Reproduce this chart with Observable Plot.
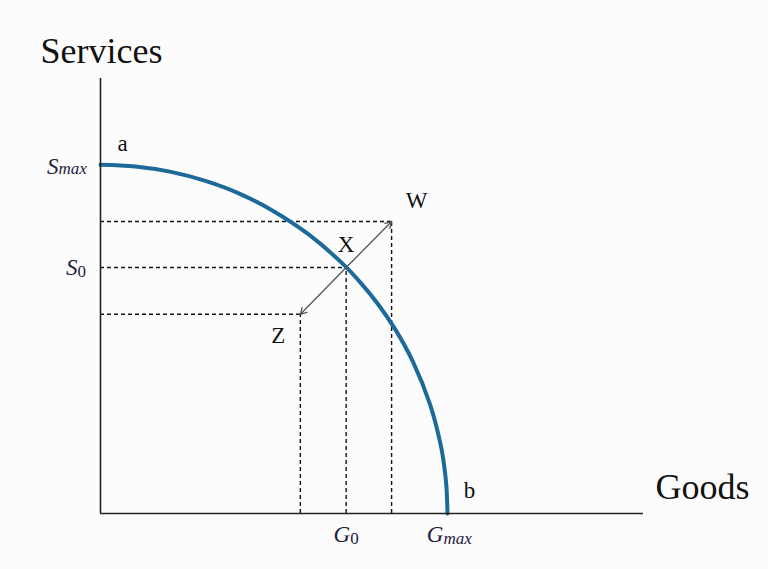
<!DOCTYPE html>
<html>
<head>
<meta charset="utf-8">
<script src="https://cdn.jsdelivr.net/npm/d3@7"></script>
<script src="https://cdn.jsdelivr.net/npm/@observablehq/plot@0.6"></script>
<style>
  html, body { margin: 0; padding: 0; background: #fcfcfc; }
  #chart { width: 768px; height: 569px; }
</style>
</head>
<body>
<div id="chart"></div>
<script>
// Production possibility frontier (Gmax = Smax = 10 units)
const frontierGoods    = [0, 1, 2, 3, 4, 5, 6, 7, 7.5, 8, 8.5, 9, 9.5, 9.8, 9.9, 9.97, 10];
const frontierServices = [10, 9.95, 9.8, 9.54, 9.17, 8.66, 8.0, 7.14, 6.61, 6.0, 5.27, 4.36, 3.12, 1.99, 1.41, 0.77, 0];

// Points W, X, Z
const pointNames    = ["W", "X", "Z"];
const pointGoods    = [8.39, 7.08, 5.76];
const pointServices = [8.37, 7.05, 5.71];

// Axis extents
const goodsAxisMax = 15.65;
const servicesAxisMax = 12.47;
const goodsMax = 10, servicesMax = 10;

const frontier = frontierGoods.map((g, i) => ({g, s: frontierServices[i]}));
const pts = pointNames.map((n, i) => ({n, g: pointGoods[i], s: pointServices[i]}));
const ptW = pts[0], ptX = pts[1], ptZ = pts[2];

const serif = "Liberation Serif, Times New Roman, serif";
const labCol = "#1c2240";

const chart = Plot.plot({
  width: 768,
  height: 569,
  marginLeft: 100,
  marginRight: 125,
  marginTop: 78,
  marginBottom: 56,
  style: {background: "transparent", fontFamily: serif},
  x: {domain: [0, goodsAxisMax], axis: null},
  y: {domain: [0, servicesAxisMax], axis: null},
  marks: [
    // dashed guides
    Plot.ruleY(pts, {y: "s", x1: 0, x2: "g", stroke: "#111", strokeWidth: 1.4, strokeDasharray: "4,3"}),
    Plot.ruleX(pts, {x: "g", y1: 0, y2: "s", stroke: "#111", strokeWidth: 1.4, strokeDasharray: "4,3"}),
    // frontier
    Plot.line(frontier, {x: "g", y: "s", stroke: "#1b6a99", strokeWidth: 4, curve: "catmull-rom"}),
    // arrows from X to W and Z
    Plot.arrow([ptW, ptZ], {x1: () => ptX.g, y1: () => ptX.s, x2: "g", y2: "s", stroke: "#555", strokeWidth: 1.3, headLength: 8}),
    // axes
    Plot.ruleX([0], {y1: 0, y2: servicesAxisMax, stroke: "#222", strokeWidth: 1.6}),
    Plot.ruleY([0], {x1: 0, x2: goodsAxisMax, stroke: "#222", strokeWidth: 1.6}),
    // axis titles
    Plot.text(["Services"], {x: 0, y: servicesAxisMax, dx: -60, dy: -27, text: d => d, textAnchor: "start", fontSize: 36, fill: "#111", fontFamily: serif}),
    Plot.text(["Goods"], {x: goodsAxisMax, y: 0, dx: 12, dy: -26.5, text: d => d, textAnchor: "start", fontSize: 36, fill: "#111", fontFamily: serif}),
    // point labels
    Plot.text([ptW], {x: "g", y: "s", text: "n", dx: 25, dy: -21, fontSize: 23, fill: "#111", fontFamily: serif}),
    Plot.text([ptX], {x: "g", y: "s", text: "n", dx: 0, dy: -23, fontSize: 23, fill: "#111", fontFamily: serif}),
    Plot.text([ptZ], {x: "g", y: "s", text: "n", dx: -22, dy: 21, fontSize: 23, fill: "#111", fontFamily: serif}),
    Plot.text(["a"], {x: 0, y: servicesMax, text: d => d, dx: 22, dy: -21, fontSize: 23, fill: "#111", fontFamily: serif}),
    Plot.text(["b"], {x: goodsMax, y: 0, text: d => d, dx: 22, dy: -23, fontSize: 23, fill: "#111", fontFamily: serif}),
    // S_max, S_0 on the vertical axis
    Plot.text(["S"], {x: 0, y: servicesMax, text: d => d, dx: -42, dy: 2, textAnchor: "end", fontSize: 23, fontStyle: "italic", fill: labCol, fontFamily: serif}),
    Plot.text(["max"], {x: 0, y: servicesMax, text: d => d, dx: -42, dy: 4, textAnchor: "start", fontSize: 17, fontStyle: "italic", fill: labCol, fontFamily: serif}),
    Plot.text(["S"], {x: 0, y: ptX.s, text: d => d, dx: -23, dy: 0, textAnchor: "end", fontSize: 23, fontStyle: "italic", fill: labCol, fontFamily: serif}),
    Plot.text(["0"], {x: 0, y: ptX.s, text: d => d, dx: -23, dy: 4, textAnchor: "start", fontSize: 17, fill: labCol, fontFamily: serif}),
    // G_0, G_max on the horizontal axis
    Plot.text(["G"], {x: ptX.g, y: 0, text: d => d, dx: 4, dy: 21.6, textAnchor: "end", fontSize: 23, fontStyle: "italic", fill: labCol, fontFamily: serif}),
    Plot.text(["0"], {x: ptX.g, y: 0, text: d => d, dx: 4, dy: 25, textAnchor: "start", fontSize: 17, fill: labCol, fontFamily: serif}),
    Plot.text(["G"], {x: goodsMax, y: 0, text: d => d, dx: -4, dy: 21.6, textAnchor: "end", fontSize: 23, fontStyle: "italic", fill: labCol, fontFamily: serif}),
    Plot.text(["max"], {x: goodsMax, y: 0, text: d => d, dx: -4, dy: 25, textAnchor: "start", fontSize: 17, fontStyle: "italic", fill: labCol, fontFamily: serif})
  ]
});
document.getElementById("chart").append(chart);
</script>
</body>
</html>
